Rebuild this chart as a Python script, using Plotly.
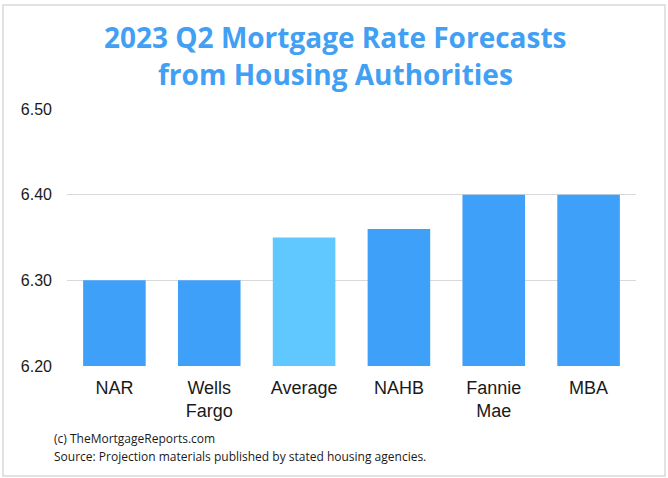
import plotly.graph_objects as go

categories = ["NAR", "Wells<br>Fargo", "Average", "NAHB", "Fannie<br>Mae", "MBA"]
rates = [6.30, 6.30, 6.35, 6.36, 6.40, 6.40]
bar_colors = ["#3fa0fa", "#3fa0fa", "#60c7ff", "#3fa0fa", "#3fa0fa", "#3fa0fa"]
y_ticks = [6.20, 6.30, 6.40, 6.50]
y_tick_labels = ["6.20", "6.30", "6.40", "6.50"]
title_lines = ["2023 Q2 Mortgage Rate Forecasts", "from Housing Authorities"]
footnote_lines = ["(c) TheMortgageReports.com",
                  "Source: Projection materials published by stated housing agencies."]

W, H = 668, 478
L, R, T, B = 67, 32, 109, 112
PW, PH = W - L - R, H - T - B


def px_x(x):
    return (x - L) / PW


def px_y(y):
    return (H - B - y) / PH


fig = go.Figure(go.Bar(
    x=categories, y=rates, marker=dict(color=bar_colors, line=dict(width=0)),
))

annotations = []
for line, yc in zip(title_lines, [37, 74]):
    annotations.append(dict(
        text=line, xref="paper", yref="paper", x=px_x(335), y=px_y(yc),
        xanchor="center", yanchor="middle", showarrow=False,
        font=dict(family="Open Sans", size=28, color="#42a0f4", weight="bold")))
for line, yc in zip(footnote_lines, [439, 456]):
    annotations.append(dict(
        text=line, xref="paper", yref="paper", x=px_x(52), y=px_y(yc),
        xanchor="left", yanchor="middle", showarrow=False, align="left",
        font=dict(family="Open Sans", size=12, color="#1a1a1a")))

fig.update_layout(
    width=W, height=H,
    margin=dict(l=L, r=R, t=T, b=B),
    paper_bgcolor="white", plot_bgcolor="white",
    bargap=0.34,
    showlegend=False,
    xaxis=dict(
        tickfont=dict(family="Liberation Sans, Arial", size=18, color="#1a1a1a"),
        showgrid=False, showline=False, ticks="", ticklen=0, ticklabelstandoff=9,
    ),
    yaxis=dict(
        range=[6.20, 6.50], tickvals=y_ticks, ticktext=y_tick_labels,
        tickfont=dict(family="Liberation Sans, Arial", size=16, color="#1a1a1a"),
        showgrid=True, gridcolor="#d9d9d9", gridwidth=1,
        zeroline=False, showline=False, ticks="", ticklabelstandoff=14,
    ),
    shapes=[dict(type="rect", xref="paper", yref="paper",
                 x0=px_x(3), x1=px_x(665), y0=px_y(476), y1=px_y(5),
                 line=dict(color="#d9d9d9", width=1.5), fillcolor="rgba(0,0,0,0)", layer="below")],
    annotations=annotations,
)

fig.write_html("out.html")
